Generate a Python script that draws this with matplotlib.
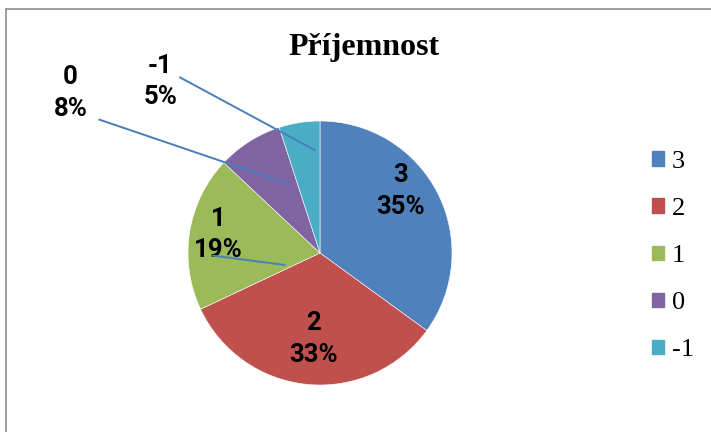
import matplotlib
matplotlib.use("Agg")
import matplotlib.pyplot as plt
from matplotlib.patches import Rectangle

# ---------- Data ----------
categories = ["3", "2", "1", "0", "-1"]
shares = [35, 33, 19, 8, 5]
colors = ["#4F81BD", "#C0504D", "#9BBB59", "#8064A2", "#4BACC6"]

# label positions (pie units) and leader line ends for the small slices
label_pos = [(0.61, 0.47), (-0.05, -0.65), (-0.77, 0.14), (-1.89, 1.21), (-1.21, 1.30)]
leaders = {2: ((-0.81, -0.02), (-0.27, -0.09)),
           3: ((-1.67, 1.01), (-0.23, 0.52)),
           4: ((-1.06, 1.33), (-0.04, 0.78))}

W, H = 711, 432
fig = plt.figure(figsize=(W / 100, H / 100), dpi=100)

# chart frame (only left and top visible, like the cropped screenshot)
fig.add_artist(Rectangle((6 / W, -0.1), 1.2, 1 - 9 / H + 0.1, transform=fig.transFigure,
                         fill=False, edgecolor="#8c8c8c", linewidth=1.2))

cx, cy, R = 320, 253, 132
ax = fig.add_axes([(cx - R) / W, (H - cy - R) / H, 2 * R / W, 2 * R / H])

wedges, _ = ax.pie(shares, colors=colors, startangle=90, counterclock=False, radius=1,
                   wedgeprops=dict(edgecolor="white", linewidth=0.4))
ax.set_xlim(-1, 1)
ax.set_ylim(-1, 1)
ax.set_aspect("equal")
ax.axis("off")

total = sum(shares)
label_font = dict(family=["Roboto", "DejaVu Sans"], weight="bold", fontsize=18.5)
for i, (cat, val) in enumerate(zip(categories, shares)):
    x, y = label_pos[i]
    ax.text(x, y, f"{cat}\n{val / total * 100:.0f}%", ha="center", va="center",
            linespacing=1.4, clip_on=False, **label_font)

for i, (p0, p1) in leaders.items():
    ax.plot([p0[0], p1[0]], [p0[1], p1[1]], color="#4A7EBB", linewidth=1.4,
            clip_on=False, zorder=5)

fig.text(364 / W, 1 - 48 / H, "Příjemnost", ha="center", va="center",
         family="Liberation Serif", weight="bold", fontsize=23)

handles = [Rectangle((0, 0), 1, 1, color=c) for c in colors]
fig.legend(handles, categories, loc="center left", bbox_to_anchor=(628 / W, 1 - 256 / H),
           frameon=False, prop=dict(family="Liberation Serif", size=19),
           handlelength=0.45, handleheight=0.45, handletextpad=0.3, labelspacing=0.95)

fig.savefig("out.png", dpi=100)
